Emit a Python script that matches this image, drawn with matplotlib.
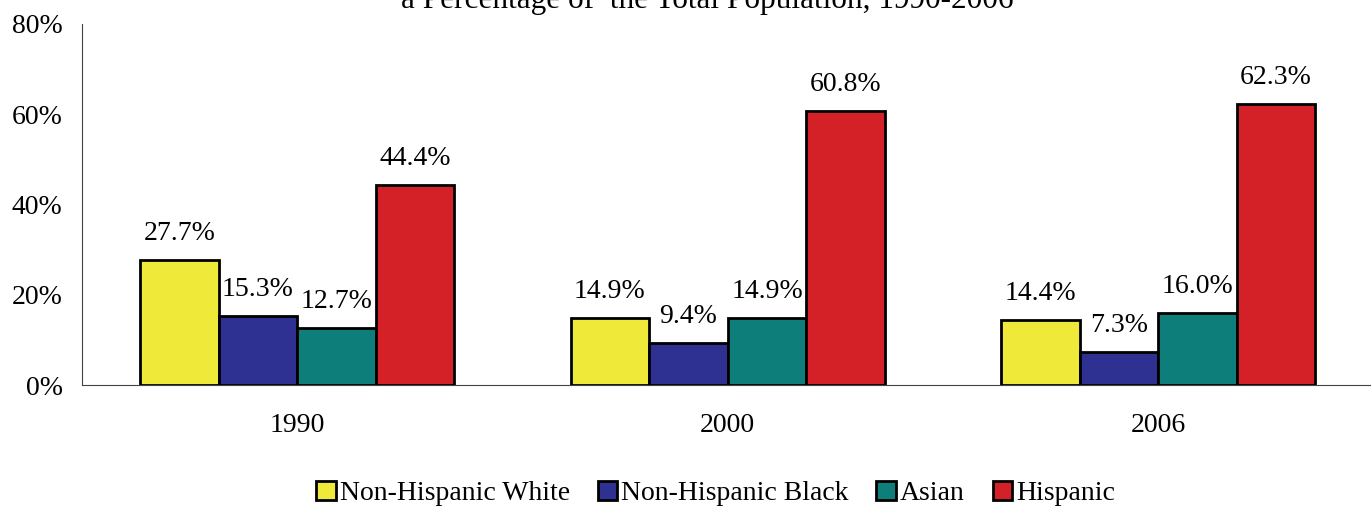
import matplotlib.pyplot as plt
import numpy as np

years = ['1990', '2000', '2006']
series = ['Non-Hispanic White', 'Non-Hispanic Black', 'Asian', 'Hispanic']
white = [27.7, 14.9, 14.4]
black = [15.3, 9.4, 7.3]
asian = [12.7, 14.9, 16.0]
hispanic = [44.4, 60.8, 62.3]
colors = ['#EFEA3A', '#2E3192', '#0E7E7A', '#D42027']

plt.rcParams['font.family'] = ['Liberation Serif', 'DejaVu Serif']

fig = plt.figure(figsize=(13.71, 5.08), dpi=100)
ax = fig.add_axes([0.0598, 0.242, 0.942, 0.711])

x = np.arange(len(years))
w = 0.1826
for i, (vals, name) in enumerate(zip([white, black, asian, hispanic], series)):
    pos = x + (i - 1.5) * w
    ax.bar(pos, vals, width=w, color=colors[i], edgecolor='black', linewidth=2, label=name)
    for p, v in zip(pos, vals):
        ax.annotate(f'{v:.1f}%', (p, v), xytext=(0, 10), textcoords='offset points',
                    ha='center', va='bottom', fontsize=20)

ax.set_xlim(-0.5, 2.5)
ax.set_ylim(0, 80)
ax.set_yticks([0, 20, 40, 60, 80])
ax.set_yticklabels(['0%', '20%', '40%', '60%', '80%'], fontsize=20)
ax.set_xticks(x)
ax.set_xticklabels(years, fontsize=20)
ax.tick_params(axis='y', length=0, pad=14)
ax.tick_params(axis='x', length=0, pad=20)
ax.spines['top'].set_visible(False)
ax.spines['right'].set_visible(False)
ax.spines['left'].set_color('#444444')
ax.spines['bottom'].set_color('#444444')

fig.text(0.516, 1 - 8 / 508, 'a Percentage of  the Total Population, 1990-2006',
         ha='center', va='baseline', fontsize=22.5)

fig.legend(loc='center', bbox_to_anchor=(0.522, 0.028), ncol=4, frameon=False,
           fontsize=20, handlelength=0.7, handleheight=0.7, handletextpad=0.15,
           columnspacing=1.0)

fig.savefig('out.png', dpi=100)
